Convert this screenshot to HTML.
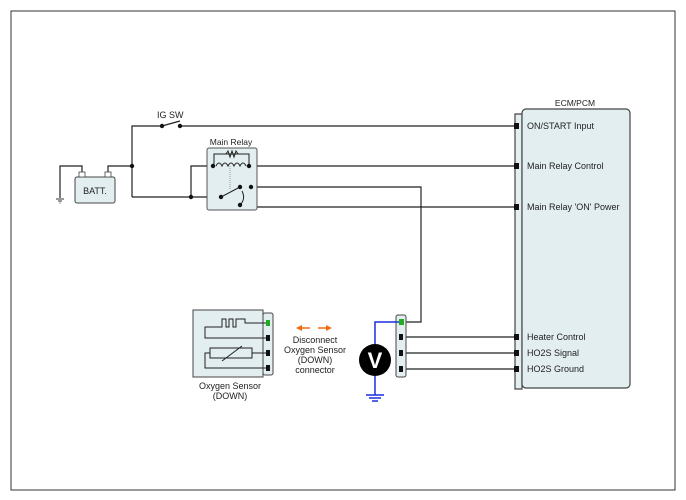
<!DOCTYPE html>
<html><head><style>body{margin:0;background:#fff}svg{display:block}text{font-family:"Liberation Sans",sans-serif;fill:#222}</style></head><body>
<svg width="686" height="500" viewBox="0 0 686 500" font-size="9">
<rect x="11" y="11" width="664" height="479" fill="#fff" stroke="#333" stroke-width="1"/>
<g stroke="#222" stroke-width="1.2" fill="none">
<path d="M515,114 H522 V389 H515 Z" fill="#e3eef0" stroke="#444"/>
<rect x="522" y="109" width="108" height="279" rx="4" fill="#e3eef0" stroke="#444"/>
<polyline points="132,197 132,126 162,126"/>
<polyline points="162,126 180,121"/>
<polyline points="180,126 517,126"/>
<polyline points="108,172 108,166 132,166"/>
<polyline points="82,172 82,166 60,166 60,198"/>
<polyline points="132,197 221,197"/>
<polyline points="191,197 191,166 213,166"/>
<polyline points="249,166 517,166"/>
<polyline points="250,187 421,187 421,322 401,322"/>
<polyline points="251,187 251,209 256,207 517,207"/>
<polyline points="401,337 517,337"/>
<polyline points="401,353 517,353"/>
<polyline points="401,369 517,369"/>
</g>
<g stroke="#333" stroke-width="1"><line x1="56" y1="199" x2="64" y2="199"/><line x1="58" y1="201" x2="62" y2="201"/><line x1="59.5" y1="203" x2="60.5" y2="203"/></g>
<rect x="75" y="177" width="40" height="26" rx="2" fill="#e3eef0" stroke="#444"/>
<rect x="79" y="172" width="6" height="5" fill="#fff" stroke="#444" stroke-width=".8"/>
<rect x="105" y="172" width="6" height="5" fill="#fff" stroke="#444" stroke-width=".8"/>
<text x="95" y="194" text-anchor="middle">BATT.</text>
<text x="157" y="118">IG SW</text>
<rect x="207" y="148" width="50" height="62" rx="2" fill="#e3eef0" stroke="#555"/>
<text x="231" y="145" text-anchor="middle" font-size="8.5">Main Relay</text>
<g stroke="#222" stroke-width="1" fill="none">
<polyline points="214,166 214,154 249,154 249,166"/>
<polyline points="226,154 228,151 230,157 232,151 234,157 236,151 238,154"/>
<path d="M216,166 q3,-6 6,0 q3,-6 6,0 q3,-6 6,0 q3,-6 6,0 q3,-6 6,0"/>
<line x1="230" y1="166" x2="230" y2="190" stroke="#999" stroke-dasharray="1,1"/>
<line x1="221" y1="197" x2="240" y2="187"/>
<path d="M240,205 q6,-6 2,-14"/>
</g>
<g fill="#111">
<circle cx="162" cy="126" r="2.2"/><circle cx="180" cy="126" r="2.2"/><circle cx="132" cy="166" r="2.2"/>
<circle cx="191" cy="197" r="2.2"/><circle cx="213" cy="166" r="2.2"/><circle cx="249" cy="166" r="2.2"/>
<circle cx="221" cy="197" r="2.2"/><circle cx="240" cy="187" r="2.2"/><circle cx="251" cy="187" r="2.2"/><circle cx="240" cy="205" r="2.2"/>
<rect x="514" y="123" width="5" height="6"/><rect x="514" y="163" width="5" height="6"/><rect x="514" y="204" width="5" height="6"/>
<rect x="514" y="334" width="5" height="6"/><rect x="514" y="350" width="5" height="6"/><rect x="514" y="366" width="5" height="6"/>
</g>
<text x="575" y="106" text-anchor="middle" font-size="8.5">ECM/PCM</text>
<text x="527" y="129">ON/START Input</text>
<text x="527" y="169">Main Relay Control</text>
<text x="527" y="210">Main Relay 'ON' Power</text>
<text x="527" y="340">Heater Control</text>
<text x="527" y="356">HO2S Signal</text>
<text x="527" y="372">HO2S Ground</text>
<rect x="396" y="315" width="10" height="62" rx="2" fill="#e3eef0" stroke="#444"/>
<rect x="399" y="319" width="5" height="6" fill="#2a2"/>
<rect x="399" y="334" width="4" height="6" fill="#111"/><rect x="399" y="350" width="4" height="6" fill="#111"/><rect x="399" y="366" width="4" height="6" fill="#111"/>
<g stroke="#1a2ee0" stroke-width="1.5" fill="none"><polyline points="375,344 375,322 399,322"/><line x1="375" y1="376" x2="375" y2="395"/><line x1="366" y1="395" x2="384" y2="395"/><line x1="369" y1="398" x2="381" y2="398"/><line x1="372" y1="401" x2="378" y2="401"/></g>
<circle cx="375" cy="360" r="16" fill="#000"/>
<text x="375" y="368" text-anchor="middle" font-size="22" font-weight="bold" style="fill:#fff">V</text>
<rect x="193" y="310" width="70" height="67" fill="#e3eef0" stroke="#444"/>
<rect x="263" y="313" width="10" height="62" rx="2" fill="#e3eef0" stroke="#444"/>
<g stroke="#222" stroke-width="1" fill="none">
<polyline points="266,323 245,323 245,319 236,319 236,327 233,327 233,319 229,319 229,327 226,327 226,319 222,319 222,327 205,327 205,338 266,338"/>
<polyline points="266,353 252,353 252,348 210,348 210,358 252,358 252,353"/>
<polyline points="210,353 205,353 205,368 266,368"/>
<line x1="222" y1="361" x2="242" y2="346"/>
</g>
<rect x="266" y="320" width="4" height="6" fill="#2a2"/>
<rect x="266" y="335" width="4" height="6" fill="#111"/><rect x="266" y="350" width="4" height="6" fill="#111"/><rect x="266" y="365" width="4" height="6" fill="#111"/>
<text x="230" y="389" text-anchor="middle">Oxygen Sensor</text>
<text x="230" y="399" text-anchor="middle">(DOWN)</text>
<g stroke="#f06a10" stroke-width="1.5"><line x1="300" y1="328" x2="310" y2="328"/><line x1="318" y1="328" x2="328" y2="328"/></g>
<polygon points="296,328 302,325 302,331" fill="#f06a10"/><polygon points="332,328 326,325 326,331" fill="#f06a10"/>
<text x="315" y="343" text-anchor="middle">Disconnect</text>
<text x="315" y="353" text-anchor="middle">Oxygen Sensor</text>
<text x="315" y="363" text-anchor="middle">(DOWN)</text>
<text x="315" y="373" text-anchor="middle">connector</text>
</svg>
</body></html>
